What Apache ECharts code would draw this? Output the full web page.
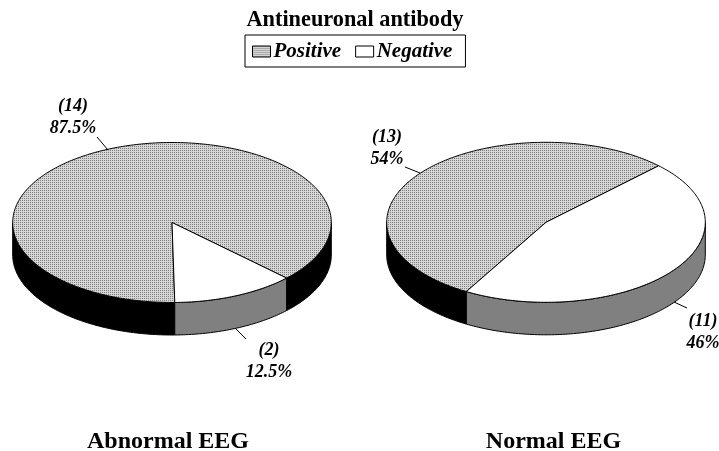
<!DOCTYPE html>
<html><head><meta charset="utf-8">
<style>html,body{margin:0;padding:0;background:#fff}#c{width:719px;height:451px}</style>
<script src="https://cdn.jsdelivr.net/npm/echarts@6/dist/echarts.min.js"></script>
</head><body><div id="c"></div>
<script>
// ---- data ----
const pieNames = ['Abnormal EEG', 'Normal EEG'];
const positiveCounts = [14, 13];
const negativeCounts = [2, 11];
const positiveLabels = ['87.5%', '54%'];
const negativeLabels = ['12.5%', '46%'];
const seriesNames = ['Positive', 'Negative'];

// ---- layout ----
const centers = [[172, 222.5], [546, 222.3]];
const RX = 159.3, RY = 80, DEPTH = 32.5;
// clockwise angle (deg from east) at which the Negative slice ends
const negativeEnd = [89, 120];
const FONT = '"Liberation Serif","Times New Roman",serif';
const posLabel = [
  {lead: [[97, 137], [108, 150]], x: 73, y: 95},
  {lead: [[405, 167], [420, 173]], x: 387, y: 126}
];
const negLabel = [
  {lead: [[235, 328], [246, 339]], x: 269, y: 339},
  {lead: [[674, 302], [687, 308]], x: 703, y: 310}
];

function dots() {
  const c = document.createElement('canvas');
  c.width = 2; c.height = 2;
  const g = c.getContext('2d');
  g.fillStyle = '#d6d6d6'; g.fillRect(0, 0, 2, 2);
  g.fillStyle = '#808080'; g.fillRect(0, 0, 1, 1);
  return {image: c, repeat: 'repeat'};
}
const dotted = dots();

function pt(i, deg, dy) {
  const a = deg * Math.PI / 180;
  return [centers[i][0] + RX * Math.cos(a), centers[i][1] + RY * Math.sin(a) + (dy || 0)];
}
function arc(i, a0, a1, dy) {
  const n = Math.max(2, Math.ceil(Math.abs(a1 - a0)));
  const out = [];
  for (let k = 0; k <= n; k++) out.push(pt(i, a0 + (a1 - a0) * k / n, dy));
  return out;
}
// span of a slice in degrees, clockwise from east
function span(kind, i) {
  const total = positiveCounts[i] + negativeCounts[i];
  const neg = negativeCounts[i] / total * 360;
  const pos = positiveCounts[i] / total * 360;
  return kind === 0 ? [negativeEnd[i], negativeEnd[i] + pos]
                    : [negativeEnd[i] - neg, negativeEnd[i]];
}
function sideParts(a0, a1) {
  // the rim is visible only on the near half (0..180 deg, mod 360)
  const parts = [];
  for (const off of [-360, 0, 360]) {
    const s = Math.max(a0, off), e = Math.min(a1, off + 180);
    if (e > s) parts.push([s, e]);
  }
  return parts;
}
const stroke = {stroke: '#000', lineWidth: 1};
function sliceItem(kind, sideFill, topFill) {
  return function (params, api) {
    const i = api.value(0);
    const [a0, a1] = span(kind, i);
    const children = [];
    sideParts(a0, a1).forEach(([s, e]) => {
      children.push({type: 'polygon', z2: 1,
        shape: {points: arc(i, s, e, 0).concat(arc(i, e, s, DEPTH))},
        style: Object.assign({fill: sideFill}, stroke)});
    });
    children.push({type: 'polygon', z2: 2,
      shape: {points: [centers[i]].concat(arc(i, a0, a1, 0))},
      style: Object.assign({fill: topFill}, stroke)});
    return {type: 'group', children};
  };
}
function labelItem(params, api) {
  const i = api.value(0);
  const mk = (cfg, count, pct) => [
    {type: 'polyline', shape: {points: cfg.lead}, style: {stroke: '#000', lineWidth: 1, fill: 'none'}},
    {type: 'text', style: {text: '(' + count + ')\n' + pct, x: cfg.x, y: cfg.y, align: 'center', verticalAlign: 'top',
      font: 'italic bold 18px ' + FONT, lineHeight: 22, fill: '#000'}}
  ];
  return {type: 'group', children:
    mk(posLabel[i], positiveCounts[i], positiveLabels[i])
      .concat(mk(negLabel[i], negativeCounts[i], negativeLabels[i]))};
}
const rows = pieNames.map((n, i) => [i]);
const chart = echarts.init(document.getElementById('c'), null, {renderer: 'canvas'});
const heading = {fontFamily: FONT, fontWeight: 'bold', fontSize: 22.3, color: '#000'};
chart.setOption({
  animation: false,
  backgroundColor: '#fff',
  title: [
    {text: 'Antineuronal antibody', left: 350, top: 4, textAlign: 'center', textStyle: heading},
    {text: pieNames[0], left: 163, top: 425, textAlign: 'center', textStyle: Object.assign({}, heading, {fontSize: 24})},
    {text: pieNames[1], left: 548.5, top: 425, textAlign: 'center', textStyle: Object.assign({}, heading, {fontSize: 24})}
  ],
  legend: {
    left: 245, top: 35, orient: 'horizontal', icon: 'rect',
    itemWidth: 18, itemHeight: 11, itemGap: 14,
    padding: [6, 13, 5, 7], borderColor: '#000', borderWidth: 1,
    selectedMode: false,
    textStyle: {fontFamily: FONT, fontStyle: 'italic', fontWeight: 'bold', fontSize: 21, color: '#000', padding: [2, 0, 0, -2]},
    data: [
      {name: seriesNames[0], itemStyle: {color: dotted, borderColor: '#000', borderWidth: 1}},
      {name: seriesNames[1], itemStyle: {color: '#fff', borderColor: '#000', borderWidth: 1}}
    ]
  },
  series: [
    {type: 'custom', name: seriesNames[0], coordinateSystem: 'none', z: 2, data: rows,
      itemStyle: {color: dotted}, encode: {}, renderItem: sliceItem(0, '#000', dotted)},
    {type: 'custom', name: seriesNames[1], coordinateSystem: 'none', z: 3, data: rows,
      itemStyle: {color: '#fff'}, encode: {}, renderItem: sliceItem(1, '#808080', '#fff')},
    {type: 'custom', name: 'labels', coordinateSystem: 'none', z: 4, data: rows, silent: true, renderItem: labelItem}
  ]
});
</script></body></html>
